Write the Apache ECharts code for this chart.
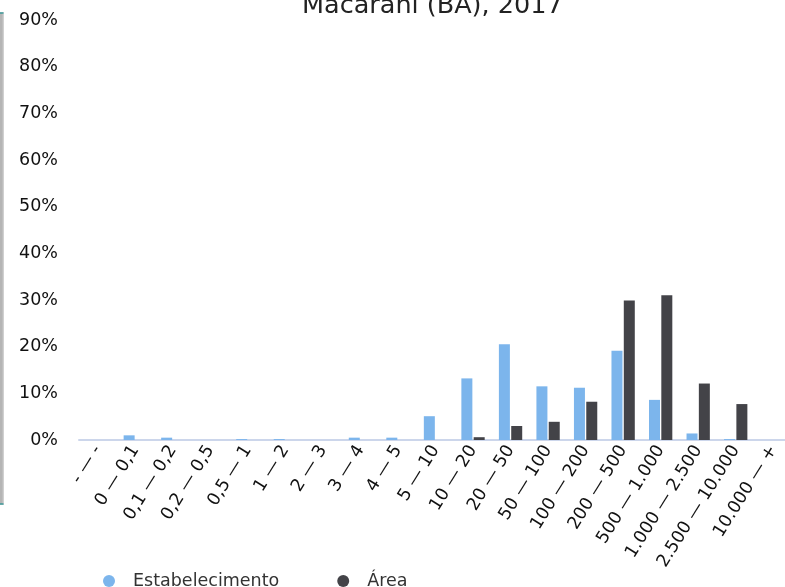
<!DOCTYPE html>
<html>
<head>
<meta charset="utf-8">
<script src="https://cdn.jsdelivr.net/npm/echarts@6/dist/echarts.min.js"></script>
<style>
  html, body { margin: 0; padding: 0; background: #fff; }
  #chart { width: 785px; height: 587px; }
</style>
</head>
<body>
<div id="chart"></div>
<script>
// faixas de área (ha)
var categories = ['- — -', '0 — 0,1', '0,1 — 0,2', '0,2 — 0,5', '0,5 — 1', '1 — 2', '2 — 3', '3 — 4', '4 — 5',
  '5 — 10', '10 — 20', '20 — 50', '50 — 100', '100 — 200', '200 — 500', '500 — 1.000',
  '1.000 — 2.500', '2.500 — 10.000', '10.000 — +']
// percentuais
var estabelecimento = [0, 1.0, 0.5, 0, 0.2, 0.2, 0, 0.5, 0.5, 5.1, 13.2, 20.5, 11.5, 11.2, 19.1, 8.6, 1.4, 0.2, 0]
var area = [0, 0, 0, 0, 0, 0, 0, 0, 0, 0, 0.6, 3.0, 3.9, 8.2, 29.9, 31.0, 12.1, 7.7, 0]
var yTicks = { min: 0, max: 90, interval: 10 }

var chart = echarts.init(document.getElementById('chart'))
var font = 'DejaVu Sans'

chart.setOption({
  animation: false,
  textStyle: { fontFamily: font },
  title: {
    text: 'Macarani (BA), 2017',
    left: 297,
    top: -12,
    textStyle: { fontFamily: font, fontSize: 25.5, fontWeight: 'normal', color: '#222' }
  },
  legend: {
    left: 98,
    top: 567,
    icon: 'circle',
    itemWidth: 38,
    itemHeight: 12,
    itemGap: 58,
    textStyle: { fontFamily: font, fontSize: 17.5, color: '#333' },
    data: ['Estabelecimento', 'Área']
  },
  grid: { left: 79, right: -7, top: 20, bottom: 147, outerBoundsMode: 'none' },
  dataZoom: [{
    type: 'slider',
    yAxisIndex: 0,
    orient: 'vertical',
    filterMode: 'none',
    left: -20,
    width: 23,
    top: 12,
    bottom: 82,
    showDetail: false,
    showDataShadow: false,
    backgroundColor: 'rgba(0,0,0,0)',
    borderColor: '#c8c8c8',
    fillerColor: 'rgba(150,150,150,0.7)',
    handleStyle: { color: '#008b8b', borderColor: '#008b8b' },
    moveHandleSize: 0
  }],
  xAxis: {
    type: 'category',
    data: categories,
    axisLine: { lineStyle: { color: '#ccd6eb', width: 2 } },
    axisTick: { show: false },
    axisLabel: { rotate: 58, interval: 0, margin: 7, fontSize: 17.5, color: '#111', fontFamily: font }
  },
  yAxis: {
    type: 'value',
    min: yTicks.min,
    max: yTicks.max,
    interval: yTicks.interval,
    axisLine: { show: false },
    axisTick: { show: false },
    splitLine: { show: false },
    axisLabel: { formatter: '{value}%', margin: 21, fontSize: 17.5, color: '#111', fontFamily: font }
  },
  series: [
    {
      name: 'Estabelecimento',
      type: 'bar',
      data: estabelecimento,
      barWidth: 11,
      barGap: '12%',
      itemStyle: { color: '#7cb5ec' }
    },
    {
      name: 'Área',
      type: 'bar',
      data: area,
      barWidth: 11,
      itemStyle: { color: '#434348' }
    }
  ]
})
</script>
</body>
</html>
